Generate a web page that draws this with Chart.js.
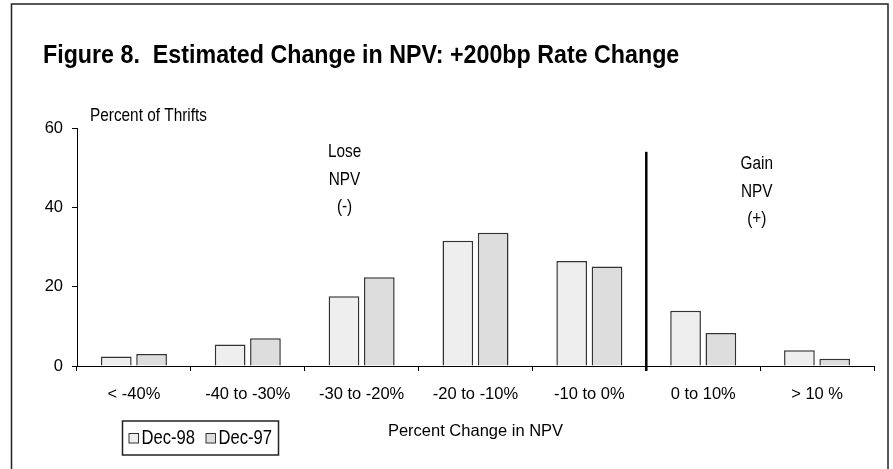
<!DOCTYPE html>
<html>
<head>
<meta charset="utf-8">
<script src="https://cdn.jsdelivr.net/npm/chart.js@4.4.0/dist/chart.umd.min.js"></script>
<style>
  html, body { margin: 0; padding: 0; background: #fff; }
  #wrap { position: relative; width: 893px; height: 469px; }
</style>
</head>
<body>
<div id="wrap"><canvas id="npvChart" width="893" height="469"></canvas></div>
<script>
const categories = ['< -40%', '-40 to -30%', '-30 to -20%', '-20 to -10%', '-10 to 0%', '0 to 10%', '> 10 %'];
const dec98 = [2.4, 5.4, 17.6, 31.6, 26.5, 13.9, 4.0];
const dec97 = [3.0, 7.0, 22.4, 33.6, 25.1, 8.3, 1.8];
const seriesNames = ['Dec-98', 'Dec-97'];
const seriesColors = ['#eeeeee', '#dddddd'];
const loseText = ['Lose', 'NPV', '(-)'];
const gainText = ['Gain', 'NPV', '(+)'];

const FONT = "'Liberation Sans', Arial, sans-serif";
const FS = 16.5;      // axis text
const NOTE_FS = 18.5; // notes, drawn squeezed
const SQ = 0.83;

// draws text squeezed a little sideways, like the narrow face of the original
function narrowText(ctx, text, x, y, sx) {
  ctx.save();
  ctx.translate(x, y);
  ctx.scale(sx, 1);
  ctx.fillText(text, 0, 0);
  ctx.restore();
}

// frame, title, notes, divider line and legend box
const extras = {
  id: 'extras',
  afterDraw(chart) {
    const ctx = chart.ctx;
    const x = chart.scales.x;
    const y = chart.scales.y;
    ctx.save();

    ctx.strokeStyle = '#222';
    ctx.lineWidth = 1.5;
    ctx.strokeRect(11.5, 4, 876.5, 480);

    ctx.fillStyle = '#000';
    ctx.textBaseline = 'alphabetic';
    ctx.textAlign = 'left';
    ctx.font = 'bold 25px ' + FONT;
    narrowText(ctx, 'Figure 8.  Estimated Change in NPV: +200bp Rate Change', 43, 63, 0.93);

    ctx.font = NOTE_FS + 'px ' + FONT;
    ctx.textBaseline = 'middle';
    narrowText(ctx, 'Percent of Thrifts', 90, 116, SQ);

    // divider between losses and gains
    const xd = x.getPixelForValue(4.5);
    ctx.strokeStyle = '#000';
    ctx.lineWidth = 2.5;
    ctx.beginPath();
    ctx.moveTo(xd, y.getPixelForValue(54));
    ctx.lineTo(xd, y.bottom + 5);
    ctx.stroke();

    ctx.textAlign = 'center';
    loseText.forEach((t, i) => {
      narrowText(ctx, t, x.getPixelForValue(1.85), y.getPixelForValue(54 - i * 7), SQ);
    });
    gainText.forEach((t, i) => {
      narrowText(ctx, t, x.getPixelForValue(5.47), y.getPixelForValue(51 - i * 7), SQ);
    });

    // legend
    ctx.font = '20px ' + FONT;
    ctx.lineWidth = 1.5;
    ctx.strokeStyle = '#222';
    ctx.strokeRect(122.5, 421, 156, 34);
    ctx.textAlign = 'left';
    let lx = 129;
    const ly = 438;
    chart.data.datasets.forEach(ds => {
      ctx.fillStyle = ds.backgroundColor;
      ctx.fillRect(lx, ly - 4.5, 9.5, 9.5);
      ctx.lineWidth = 1;
      ctx.strokeStyle = '#333';
      ctx.strokeRect(lx, ly - 4.5, 9.5, 9.5);
      ctx.fillStyle = '#000';
      narrowText(ctx, ds.label, lx + 12.5, ly, SQ);
      lx += 12.5 + ctx.measureText(ds.label).width * SQ + 11;
    });
    ctx.restore();
  }
};

const ctx = document.getElementById('npvChart').getContext('2d');
new Chart(ctx, {
  type: 'bar',
  data: {
    labels: categories,
    datasets: [
      { label: seriesNames[0], data: dec98, backgroundColor: seriesColors[0] },
      { label: seriesNames[1], data: dec97, backgroundColor: seriesColors[1] }
    ]
  },
  options: {
    responsive: false,
    animation: false,
    layout: { padding: { left: 37, top: 128, right: 19, bottom: 0 } },
    datasets: {
      bar: {
        categoryPercentage: 0.62,
        barPercentage: 0.87,
        borderWidth: 1.5,
        borderColor: '#333'
      }
    },
    plugins: {
      legend: { display: false },
      title: { display: false },
      tooltip: { enabled: false }
    },
    scales: {
      x: {
        afterFit: s => { s.height = 103; },
        grid: { drawOnChartArea: false, color: '#000', tickLength: 5 },
        border: { color: '#000', width: 1 },
        ticks: { color: '#000', padding: 14, maxRotation: 0, font: { family: FONT, size: FS } },
        title: {
          display: true,
          text: 'Percent Change in NPV',
          color: '#000',
          font: { family: FONT, size: FS },
          padding: { top: 0, bottom: 28 }
        }
      },
      y: {
        min: 0,
        max: 60,
        afterFit: s => { s.width = 40; },
        grid: { drawOnChartArea: false, color: '#000', tickLength: 5 },
        border: { color: '#000', width: 1 },
        ticks: { stepSize: 20, color: '#000', padding: 9, font: { family: FONT, size: FS } }
      }
    }
  },
  plugins: [extras]
});
</script>
</body>
</html>
